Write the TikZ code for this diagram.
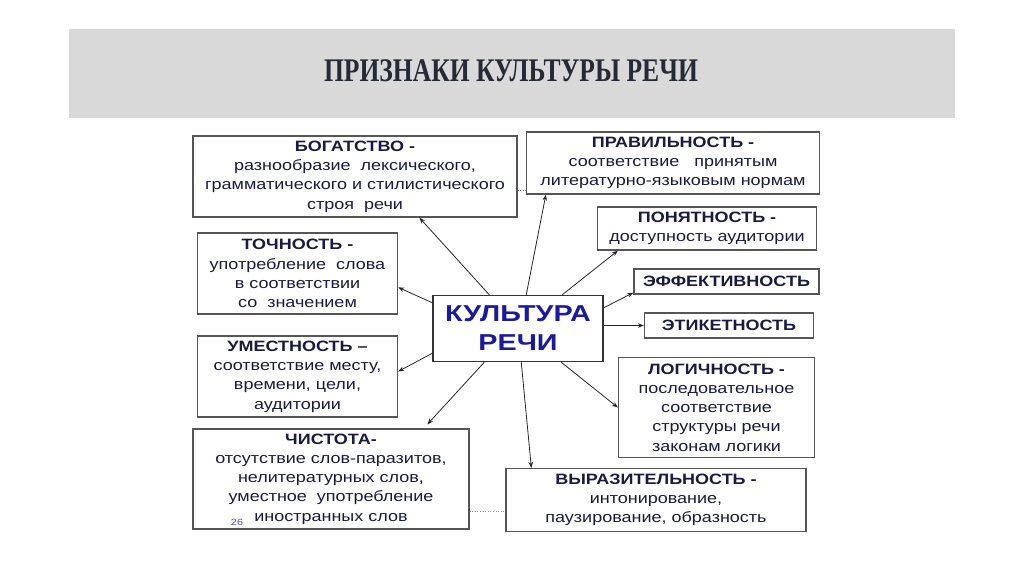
\documentclass[tikz,border=0pt]{standalone}
\usepackage{fontspec}
\usepackage{graphicx}
\setmainfont{Liberation Sans}[FakeStretch=1.2]
\newfontfamily\centerfont{Liberation Sans}[FakeStretch=1.25]
\newfontfamily\titlefont{Liberation Serif}
\usetikzlibrary{arrows.meta,calc}
\definecolor{txt}{HTML}{1A1A40}
\definecolor{bord}{HTML}{555555}
\definecolor{cblue}{HTML}{1A1AA0}
\definecolor{band}{HTML}{D9D9D9}
\definecolor{ttl}{HTML}{262A36}
\tikzset{
  box/.style={draw=bord, line width=1.3pt, fill=white, text=txt, align=center,
    inner sep=0pt, font=\fontsize{15}{19.3}\selectfont},
  arr/.style={draw=black!85, line width=0.8pt, -{Stealth[length=6pt,width=4.5pt]}},
  faint/.style={line width=0.6pt, dotted}
}
\begin{document}
\begin{tikzpicture}[x=1pt,y=-1pt]
\useasboundingbox (0,0) rectangle (1024,574);
\fill[white] (0,0) rectangle (1024,574);
\fill[band] (69,29) rectangle (955,118);
\node[text=ttl, inner sep=0pt, font=\titlefont\bfseries\fontsize{33}{36}\selectfont] (title) at (511,71) {\scalebox{0.775}[1]{ПРИЗНАКИ КУЛЬТУРЫ РЕЧИ}};

\node[box, minimum width=324pt, minimum height=81pt] (bog) at (355,176.5)
  {\textbf{БОГАТСТВО -}\\разнообразие \ лексического,\\грамматического и стилистического\\строя \ речи};
\node[box, minimum width=293pt, minimum height=62pt] (prav) at (673,163)
  {\textbf{ПРАВИЛЬНОСТЬ -}\\соответствие \ \ принятым\\литературно-языковым нормам};
\node[box, minimum width=200pt, minimum height=81pt] (toch) at (297.5,273.5)
  {\textbf{ТОЧНОСТЬ -}\\употребление \ слова\\в соответствии\\со \ значением};
\node[box, minimum width=219pt, minimum height=43pt] (pon) at (707,228.5)
  {\textbf{ПОНЯТНОСТЬ -}\\доступность аудитории};
\node[box, minimum width=185pt, minimum height=25pt] (eff) at (726.5,281.5)
  {\textbf{ЭФФЕКТИВНОСТЬ}};
\node[box, minimum width=169pt, minimum height=25pt] (etik) at (729,325.5)
  {\textbf{ЭТИКЕТНОСТЬ}};
\node[box, draw=black!80, line width=1.5pt, minimum width=170pt, minimum height=66pt, text=cblue,
  font=\centerfont\bfseries\fontsize{23}{29}\selectfont] (c) at (518,328.5) {КУЛЬТУРА\\РЕЧИ};
\node[box, minimum width=200pt, minimum height=81pt] (um) at (297.5,376.5)
  {\textbf{УМЕСТНОСТЬ –}\\соответствие месту,\\времени, цели,\\аудитории};
\node[box, minimum width=196pt, minimum height=100pt] (log) at (716.5,407.5)
  {\textbf{ЛОГИЧНОСТЬ -}\\последовательное\\соответствие\\структуры речи\\законам логики};
\node[box, minimum width=276pt, minimum height=100pt] (chis) at (331,479)
  {\textbf{ЧИСТОТА-}\\отсутствие слов-паразитов,\\нелитературных слов,\\уместное \ употребление\\иностранных слов};
\node[box, minimum width=300pt, minimum height=63pt] (vyr) at (656,500)
  {\textbf{ВЫРАЗИТЕЛЬНОСТЬ -}\\интонирование,\\паузирование, образность};
\node[text=blue!40!gray, font=\fontsize{9}{10}\selectfont, inner sep=0pt] (num) at (237,522) {26};

% faint artifacts
\draw[faint, gray] ([yshift=-13.5pt]bog.east) -- ([yshift=-13.5pt]bog.east -| prav.west);
\draw[faint, red!60] ([yshift=-32pt]chis.east) -- ([yshift=-32pt]chis.east -| vyr.west);

% arrows
\draw[arr] ([xshift=57pt]c.north west) -- ([xshift=227pt]bog.south west);
\draw[arr] ([yshift=-8pt]c.north west) -- ([yshift=-55pt]toch.north east);
\draw[arr] ([xshift=94pt]c.north west) -- ([xshift=20pt]prav.south west);
\draw[arr] ([xshift=130pt]c.north west) -- ([xshift=21pt]pon.south west);
\draw[arr] ([yshift=-13pt]c.north east) -- ([yshift=2pt]eff.south west);
\draw[arr] (c.east |- etik.west) -- (etik.west);
\draw[arr] ([xshift=129pt]c.south west) -- (log.west);
\draw[arr] ([xshift=89pt]c.south west) -- ([xshift=26pt]vyr.north west);
\draw[arr] ([yshift=9pt]c.south west) -- ([yshift=5pt]um.east);
\draw[arr] ([xshift=52pt]c.south west) -- ([xshift=235pt,yshift=4pt]chis.north west);
\end{tikzpicture}
\end{document}
